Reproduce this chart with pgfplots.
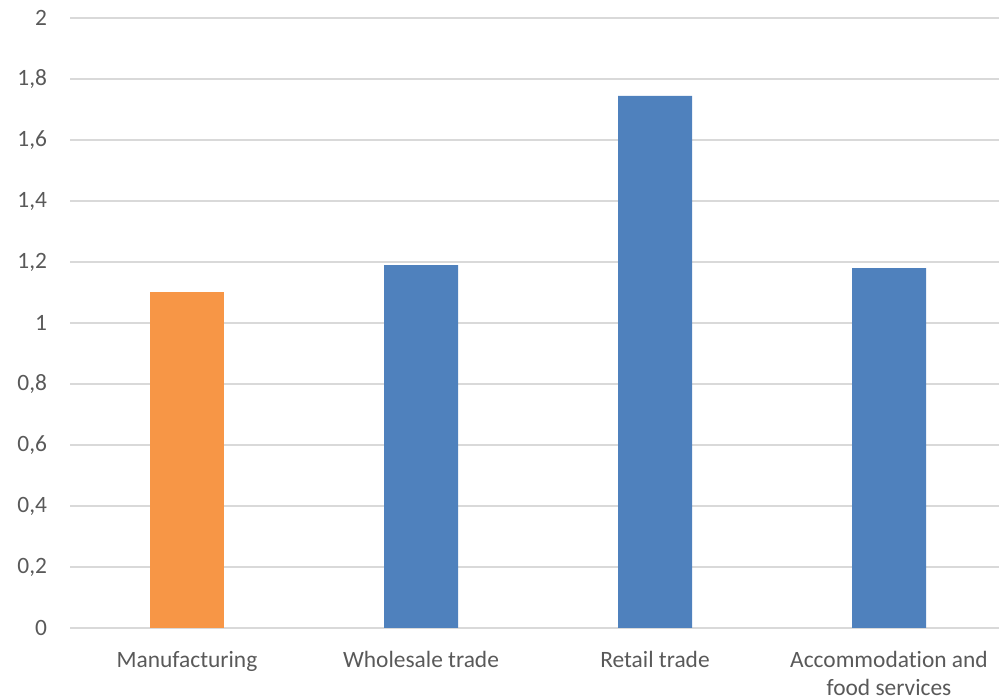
\documentclass[border=0pt]{standalone}
\usepackage{fontspec}
\setmainfont{Carlito}[Ligatures=NoCommon]
\usepackage{pgfplots}
\pgfplotsset{compat=1.18}
\definecolor{barblue}{HTML}{4F81BD}
\definecolor{barorange}{HTML}{F79646}
\definecolor{gridgray}{HTML}{D9D9D9}
\definecolor{labelgray}{HTML}{595959}
\begin{document}
\fontsize{23.5}{28.5}\selectfont
\begin{tikzpicture}
\useasboundingbox (0,0) rectangle (999bp,700bp);
\begin{axis}[
    at={(70bp,72bp)}, anchor=south west,
    scale only axis,
    width=936bp, height=610bp,
    xmin=-0.5, xmax=3.5,
    ymin=0, ymax=2,
    ytick={0,0.2,...,2},
    xtick={0,1,2,3},
    xticklabels={Manufacturing,Wholesale trade,Retail trade,{Accommodation and\\food services}},
    xticklabel style={align=center, font=\fontsize{23.5}{28.5}\selectfont, text=labelgray, yshift=-15bp},
    yticklabel style={font=\fontsize{23.5}{28.5}\selectfont, text=labelgray, xshift=-15bp},
    /pgf/number format/assume math mode=true,
    /pgf/number format/use comma,
    /pgf/number format/fixed,
    axis line style={draw=none},
    major tick length=0pt,
    ymajorgrids,
    grid style={gridgray, line width=1.5bp},
    ybar, bar width=74bp, bar shift=0pt,
]
\addplot[fill=barorange, draw=none] coordinates {(0,1.1)};
\addplot[fill=barblue, draw=none] coordinates {(1,1.19) (2,1.745) (3,1.18)};
\end{axis}
\end{tikzpicture}
\end{document}
